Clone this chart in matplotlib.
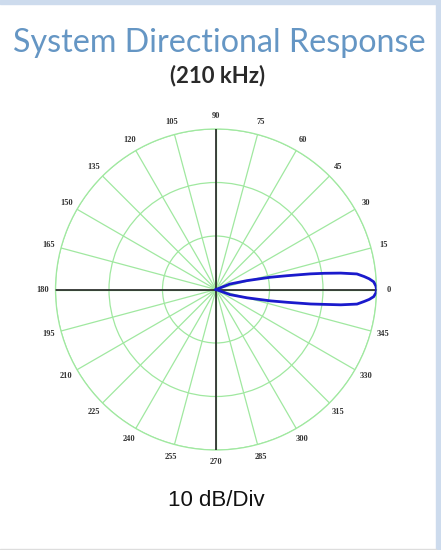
import numpy as np
import matplotlib
matplotlib.use("Agg")
import matplotlib.pyplot as plt
from matplotlib.patches import Rectangle

# ---- data ----
title = "System Directional Response"
subtitle = "(210 kHz)"
scale_label = "10 dB/Div"
angle_ticks = list(range(0, 360, 15))
db_min = -30
ring_db = [-20, -10, 0]

# lobe: angle (deg) vs relative level (dB)
lobe_angle = [-28, -20, -15, -11.8, -10.2, -8.7, -7.8, -7.0, -5.9, -4.6, -3.7, -2.6, -1.2,
              0, 1.2, 2.8, 4.0, 5.0, 6.3, 7.5, 8.5, 9.4, 11.0, 12.7, 16.0, 21.4, 30]
lobe_db = [-30, -27.2, -24, -19.6, -16.5, -12.1, -9.5, -6.5, -3.5, -2.2, -1.3, -0.5, -0.1,
           0, -0.1, -0.5, -1.3, -2.2, -3.5, -6.5, -9.5, -12.1, -16.5, -19.6, -24, -27.2, -30]

W, H = 441, 550
fig = plt.figure(figsize=(W / 100, H / 100), dpi=100)
fig.patch.set_facecolor("white")

# frame decorations
fig.add_artist(Rectangle((0, 1 - 4 / H), 1, 4 / H, transform=fig.transFigure,
                         color="#cddbed", zorder=0))
fig.add_artist(Rectangle((436 / W, 0), 4 / W, 1, transform=fig.transFigure,
                         color="#cddbed", zorder=0))
fig.add_artist(Rectangle((0, 0), 436 / W, 1.5 / H, transform=fig.transFigure,
                         color="#dddddd", zorder=0))

cx, cy, R = 216, 289.5, 160.5
ax = fig.add_axes([(cx - R) / W, 1 - (cy + R) / H, 2 * R / W, 2 * R / H],
                  projection="polar")
ax.set_facecolor("none")
ax.set_ylim(0, -db_min)
ax.set_yticks([d - db_min for d in ring_db])
ax.set_yticklabels([])
ax.set_xticks(np.deg2rad(angle_ticks))
ax.set_xticklabels([])
ax.grid(True, color="#a0e8a0", lw=0.9)
ax.spines["polar"].set_color("#a0e8a0")
ax.spines["polar"].set_linewidth(0.9)

# black axes
for a in (0, 90):
    t = np.deg2rad(a)
    ax.plot([t, t], [0, -db_min], color="#222222", lw=1.2, zorder=3)
    ax.plot([t + np.pi, t + np.pi], [0, -db_min], color="#222222", lw=1.2, zorder=3)

# lobe
th = np.deg2rad(lobe_angle)
rr = np.array(lobe_db) - db_min
ax.plot(th, rr, color="#1a1acc", lw=2.0, zorder=4, solid_joinstyle="round")

# angle labels
for a in angle_ticks:
    t = np.deg2rad(a)
    rl = 173
    x = cx + rl * np.cos(t)
    y = cy - rl * np.sin(t)
    fig.text(x / W, 1 - y / H, str(a), ha="center", va="center",
             fontsize=6, family="Liberation Serif", fontweight="bold", color="#333333")

fig.text(219 / W, 1 - 43 / H, title, ha="center", va="center",
         fontsize=23.2, family="Lato", color="#6596c4")
fig.text(218 / W, 1 - 76 / H, subtitle, ha="center", va="center",
         fontsize=16, family="Lato", fontweight="bold", color="#2a2a2a")
fig.text(216 / W, 1 - 500 / H, scale_label, ha="center", va="center",
         fontsize=16, family="Liberation Sans", color="#111111")

fig.savefig("out.png", dpi=100, facecolor="white")
